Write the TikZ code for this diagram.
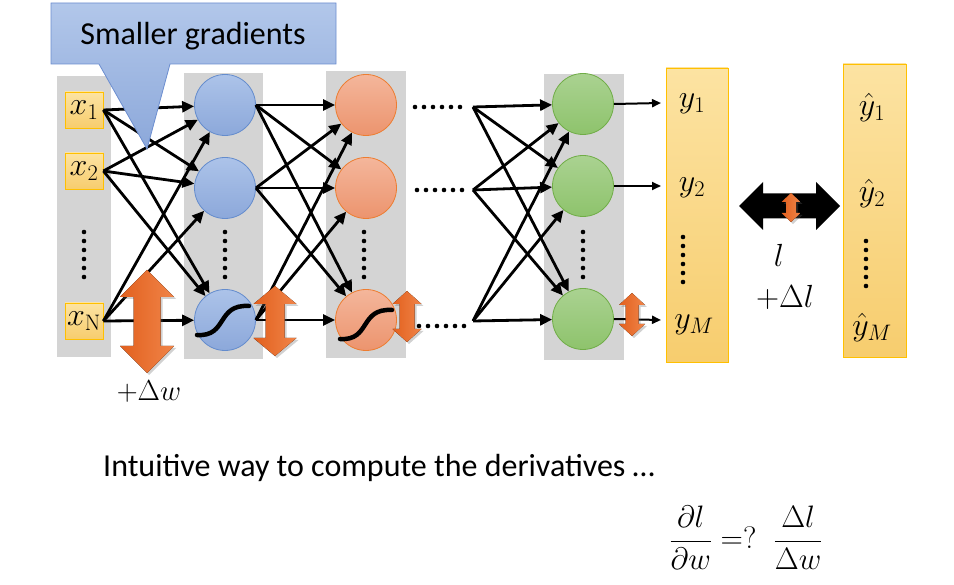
\RequirePackage{fix-cm}
\documentclass[tikz,border=0pt]{standalone}
\usepackage[no-math]{fontspec}
\setmainfont{Carlito}
\usetikzlibrary{arrows.meta,shadows,calc}
\definecolor{colgray}{RGB}{212,212,212}
\definecolor{blueT}{RGB}{172,195,233}
\definecolor{blueB}{RGB}{140,168,218}
\definecolor{blueD}{RGB}{100,140,205}
\definecolor{orT}{RGB}{244,182,155}
\definecolor{orB}{RGB}{236,148,110}
\definecolor{orD}{RGB}{237,125,49}
\definecolor{grT}{RGB}{170,210,145}
\definecolor{grB}{RGB}{142,195,108}
\definecolor{grD}{RGB}{112,173,71}
\definecolor{yeT}{RGB}{252,227,162}
\definecolor{yeB}{RGB}{247,205,110}
\definecolor{yeD}{RGB}{255,192,0}
\definecolor{arL}{RGB}{226,96,30}
\definecolor{arR}{RGB}{240,132,72}
\definecolor{caT}{RGB}{178,199,234}
\definecolor{caB}{RGB}{140,168,218}
\definecolor{caD}{RGB}{108,142,208}
\newcommand{\vdarr}[6]{%
  \fill[oarr] (#1,#2) -- (#1+#4,#2+#6) -- (#1+#5,#2+#6) -- (#1+#5,#3-#6) -- (#1+#4,#3-#6) -- (#1,#3)
    -- (#1-#4,#3-#6) -- (#1-#5,#3-#6) -- (#1-#5,#2+#6) -- (#1-#4,#2+#6) -- cycle;}
\begin{document}
\begin{tikzpicture}[x=1pt,y=-1pt,
  colbg/.style={fill=colgray,draw=none},
  inbox/.style={draw=yeD,line width=0.8pt,top color=yeT,bottom color=yeB,minimum width=38pt,minimum height=36pt,inner sep=0pt},
  neuron/.style={circle,minimum size=61pt,inner sep=0pt,line width=0.8pt},
  bneu/.style={neuron,draw=blueD,top color=blueT,bottom color=blueB},
  oneu/.style={neuron,draw=orD,top color=orT,bottom color=orB},
  gneu/.style={neuron,draw=grD,top color=grT,bottom color=grB},
  ybox/.style={draw=yeD,line width=0.8pt,top color=yeT,bottom color=yeB},
  edge/.style={line width=2.8pt,-{Triangle[length=12pt,width=11pt]}},
  outedge/.style={line width=2pt,-{Triangle[length=9pt,width=8pt]}},
  oarr/.style={left color=arL,right color=arR,drop shadow={opacity=0.3,shadow xshift=2pt,shadow yshift=-2pt,fill=black!60}},
  sig/.style={line width=4.5pt,line cap=round},
  lab/.style={font=\fontsize{32}{36}\selectfont,inner sep=0pt},
  dot/.style={fill=black}
]
\useasboundingbox (0,0) rectangle (954,585);

% columns
\fill[colbg] (57,76) rectangle (111,357);
\fill[colbg] (184,73) rectangle (263,359);
\fill[colbg] (326,71) rectangle (406,358);
\fill[colbg] (544,74) rectangle (624,360);
\path[ybox] (666,68) rectangle (728,362);
\path[ybox] (843,64) rectangle (906,357);

% input boxes
\node[inbox] (i1) at (84,110) {};
\node[inbox] (i2) at (84,171) {};
\node[inbox] (iN) at (84,321) {};
\node[lab] at (i1) {$x_1$};
\node[lab] at (i2) {$x_2$};
\node[lab] at (iN) {$x_{\mathrm{N}}$};

% neurons
\node[bneu] (a1) at (225,105) {};
\node[bneu] (a2) at (225,188) {};
\node[bneu] (a3) at (225,320) {};
\node[oneu] (b1) at (366,105) {};
\node[oneu] (b2) at (366,188) {};
\node[oneu] (b3) at (366,320) {};
\node[gneu] (g1) at (583,104) {};
\node[gneu] (g2) at (583,186) {};
\node[gneu] (g3) at (583,319) {};

% sigmoids
\draw[sig] (197,335) .. controls (228,337) and (216,304) .. (249,306);
\draw[sig] (340,339) .. controls (371,341) and (359,308) .. (392,310);

% vertical dots
\foreach \yy in {232,241,250,259,268,277} {
  \fill[dot] (84,\yy) circle (2.3);
  \fill[dot] (225,\yy) circle (2.3);
  \fill[dot] (364,\yy) circle (2.3);
  \fill[dot] (583,\yy) circle (2.3);
}
\foreach \yy in {237,246,255,264,273,282} \fill[dot] (683,\yy) circle (2.3);
\foreach \yy in {241,250,259,268,277,286} \fill[dot] (866,\yy) circle (2.3);
% horizontal dots
\foreach \xx in {0,9,18,27,36,45} {
  \fill[dot] (415+\xx,107) circle (2.3);
  \fill[dot] (417+\xx,190) circle (2.3);
  \fill[dot] (419+\xx,326) circle (2.3);
}

% edges input -> layer1
\foreach \s in {i1,i2,iN} \foreach \t in {a1,a2,a3} \draw[edge] (\s.east) -- (\t);
% layer1 -> layer2
\foreach \s in {a1,a2,a3} \foreach \t in {b1,b2,b3} \draw[edge] (\s.east) -- (\t);
% fan -> green
\coordinate (f1) at (473,107);
\coordinate (f2) at (473,190);
\coordinate (f3) at (473,321);
\foreach \s in {f1,f2,f3} \foreach \t in {g1,g2,g3} \draw[edge] (\s) -- (\t);
% outputs
\coordinate (o1) at (661,103);
\coordinate (o2) at (661,186);
\coordinate (o3) at (661,320);
\draw[outedge] (g1.east) -- (o1);
\draw[outedge] (g2.east) -- (o2);
\draw[outedge] (g3.east) -- (o3);

% output labels
\node[lab] (y1) at (692,104) {$y_1$};
\node[lab] (y2) at (692,188) {$y_2$};
\node[lab] (yM) at (694,325) {$y_M$};
\node[lab] (t1) at (872,108) {$\hat{y}_1$};
\node[lab] (t2) at (872,194) {$\hat{y}_2$};
\node[lab] (tM) at (872,328) {$\hat{y}_M$};

% loss arrow
\fill[black] (739,206) -- (763,182) -- (763,193.5) -- (816,193.5) -- (816,182) -- (840,206)
  -- (816,230) -- (816,218.5) -- (763,218.5) -- (763,230) -- cycle;
\node[lab] (l) at (779,255) {$l$};
\node[lab] (dl) at (785,297) {$+\Delta l$};

% callout
\shade[top color=caT,bottom color=caB,draw=caD,line width=0.8pt]
  (51,3) -- (336,3) -- (336,64) -- (170,64) -- (147,149) -- (99,64) -- (51,64) -- cycle;
\node[font=\fontsize{32}{36}\selectfont,inner sep=0pt] (cap) at (193,36) {Smaller gradients};

% orange double arrows
\vdarr{147}{270}{373}{27}{13.5}{27}
\vdarr{275}{286}{356}{21.5}{9.5}{18}
\vdarr{407}{291}{342}{14.5}{7.5}{13}
\vdarr{632}{293}{336}{13}{6.5}{12}
\vdarr{791}{193}{222}{9.5}{5}{9}

\node[lab,font=\fontsize{29}{34}\selectfont] (dw) at (149,392) {$+\Delta w$};

% bottom text
\node[anchor=base west,font=\fontsize{32}{36}\selectfont,inner sep=0pt] (txt) at (103,477) {Intuitive way to compute the derivatives …};
\node[font=\fontsize{31}{36}\selectfont,inner sep=0pt] (frac) at (746,538)
  {$\displaystyle \frac{\partial l}{\partial w}\;{=}?\;\;\frac{\Delta l}{\Delta w}$};
\end{tikzpicture}
\end{document}
